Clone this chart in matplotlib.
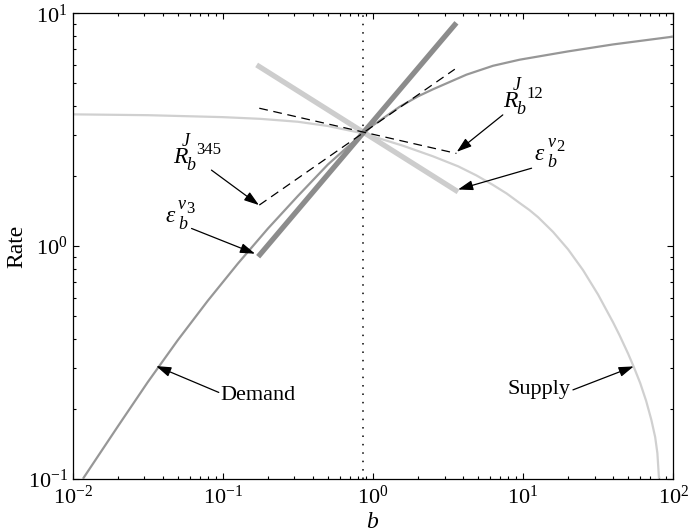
import matplotlib
matplotlib.use("Agg")
import matplotlib.pyplot as plt
from matplotlib.ticker import LogLocator, FuncFormatter, NullFormatter
import numpy as np

plt.rcParams['font.family'] = ['Liberation Serif', 'DejaVu Serif']
plt.rcParams['mathtext.fontset'] = 'custom'
plt.rcParams['mathtext.rm'] = 'Liberation Serif'
plt.rcParams['mathtext.it'] = 'Liberation Serif:italic'
plt.rcParams['mathtext.bf'] = 'Liberation Serif:bold'

# ---- data ----
demand_b = [0.0117, 0.02, 0.0316, 0.0501, 0.0794, 0.126, 0.2, 0.316, 0.501, 0.857,
            1.0, 1.51, 2.0, 2.52, 4.2, 6.31, 9.5, 19.95, 39.8, 100]
demand_rate = [0.1, 0.168, 0.26, 0.394, 0.582, 0.841, 1.19, 1.64, 2.24, 3.05,
               3.30, 3.97, 4.40, 4.72, 5.45, 5.95, 6.32, 6.86, 7.35, 7.94]

supply_b = [0.01, 0.0316, 0.1, 0.178, 0.316, 0.5, 0.857, 1.58, 2.51, 3.7, 4.9, 6.31, 7.8,
            9.5, 11.0, 12.6, 15.85, 19.95, 25.1, 31.6, 39.8, 44, 50.1, 54.6, 60.3, 66.1,
            71.6, 75.9, 78.5, 80.5]
supply_rate = [3.68, 3.65, 3.58, 3.52, 3.42, 3.28, 3.05, 2.70, 2.43, 2.2, 2.01, 1.83, 1.68,
               1.53, 1.43, 1.33, 1.15, 0.968, 0.788, 0.619, 0.47, 0.413, 0.345, 0.303, 0.258,
               0.216, 0.179, 0.151, 0.129, 0.1]

eps_v3_b = [0.172, 3.6]
eps_v3_rate = [0.90, 9.1]
eps_v2_b = [0.168, 3.69]
eps_v2_rate = [6.0, 1.71]
rj345_b = [0.175, 3.51]
rj345_rate = [1.50, 5.75]
rj12_b = [0.175, 3.6]
rj12_rate = [3.91, 2.5]
b_star = 0.857

fig = plt.figure(figsize=(6.89, 5.32), dpi=100)
ax = fig.add_axes([0.1055, 0.100, 0.8715, 0.875])
ax.set_xscale('log')
ax.set_yscale('log')
ax.set_xlim(1e-2, 1e2)
ax.set_ylim(1e-1, 1e1)

ax.plot(supply_b, supply_rate, color='#d0d0d0', lw=1.6, solid_capstyle='butt', zorder=2)
ax.plot(demand_b, demand_rate, color='#979797', lw=1.6, solid_capstyle='butt', zorder=3)
ax.plot(eps_v2_b, eps_v2_rate, color='#cdcdcd', lw=3.8, solid_capstyle='butt', zorder=4)
ax.plot(eps_v3_b, eps_v3_rate, color='#8c8c8c', lw=3.8, solid_capstyle='butt', zorder=5)
ax.plot(rj345_b, rj345_rate, color='black', lw=0.9, dashes=(7, 4.5), zorder=6)
ax.plot(rj12_b, rj12_rate, color='black', lw=0.9, dashes=(7, 4.5), zorder=6)
ax.axvline(b_star, color='black', lw=1.1, linestyle=(0, (1, 4.5)), zorder=1)

arrow = dict(arrowstyle='-|>,head_length=0.9,head_width=0.3', color='black', lw=0.9,
             shrinkA=0, shrinkB=0)
fs = 16

def ann(tip, start):
    ax.annotate('', xy=tip, xytext=start, arrowprops=arrow, zorder=7)

PX = 0.72  # points per pixel at 100 dpi

def composite(x, y, main, sub, sup, supsub):
    ax.text(x, y, main, fontsize=17, fontstyle='italic', ha='left', va='baseline')
    if main == 'R':
        o_sub, o_sup, o_ss = (13, 7), (9, -17), (23, -9)
    else:
        o_sub, o_sup, o_ss = (13, 7), (13, -13), (21, -9)
    ax.annotate(sub, xy=(x, y), xytext=(o_sub[0] * PX, -o_sub[1] * PX),
                textcoords='offset points', fontsize=13, fontstyle='italic',
                ha='left', va='baseline')
    ax.annotate(sup, xy=(x, y), xytext=(o_sup[0] * PX, -o_sup[1] * PX),
                textcoords='offset points', fontsize=13, fontstyle='italic',
                ha='left', va='baseline')
    ax.annotate(supsub, xy=(x, y), xytext=(o_ss[0] * PX, -o_ss[1] * PX),
                textcoords='offset points', fontsize=12,
                ha='left', va='baseline')

# Demand
ann((0.036, 0.305), (0.094, 0.235))
ax.text(0.097, 0.228, 'Demand', fontsize=fs, ha='left', va='center')
# Supply
ann((54.6, 0.304), (21.5, 0.241))
ax.text(20.8, 0.243, 'Supply', fontsize=fs, ha='right', va='center')
# R_b^{J12}
ann((3.62, 2.54), (7.33, 3.66))
composite(7.4, 3.97, 'R', 'b', 'J', '12')
# eps_b^{v2}
ann((3.69, 1.75), (11.4, 2.16))
composite(11.97, 2.35, 'ε', 'b', 'ν', '2')
# eps_b^{v3}
ann((0.164, 0.927), (0.0619, 1.19))
composite(0.0412, 1.27, 'ε', 'b', 'ν', '3')
# R_b^{J345}
ann((0.174, 1.50), (0.084, 2.12))
composite(0.0465, 2.28, 'R', 'b', 'J', '345')

def fmt(v, pos):
    e = int(round(np.log10(v)))
    return r'$\mathregular{10^{%d}}$' % e

for axis in (ax.xaxis, ax.yaxis):
    axis.set_major_locator(LogLocator(base=10, numticks=10))
    axis.set_minor_locator(LogLocator(base=10, subs=np.arange(2, 10), numticks=20))
    axis.set_major_formatter(FuncFormatter(fmt))
    axis.set_minor_formatter(NullFormatter())

ax.tick_params(which='both', direction='in', top=True, right=True, labelsize=fs)
ax.tick_params(which='major', length=4.2, width=0.8)
ax.tick_params(which='minor', length=2.2, width=0.8)
ax.tick_params(axis='x', which='major', pad=5)
for s in ax.spines.values():
    s.set_linewidth(0.9)

ax.set_xlabel(r'$b$', fontsize=17, labelpad=2)
ax.set_ylabel('Rate', fontsize=17, labelpad=0)

fig.savefig('out.png', dpi=100)
